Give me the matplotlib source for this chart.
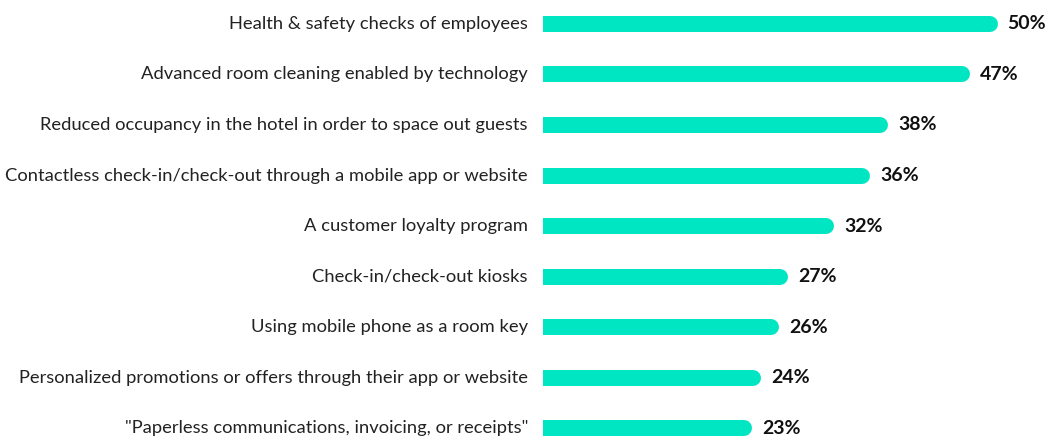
import matplotlib
matplotlib.use("Agg")
import matplotlib.pyplot as plt

categories = [
    "Health & safety checks of employees",
    "Advanced room cleaning enabled by technology",
    "Reduced occupancy in the hotel in order to space out guests",
    "Contactless check-in/check-out through a mobile app or website",
    "A customer loyalty program",
    "Check-in/check-out kiosks",
    "Using mobile phone as a room key",
    "Personalized promotions or offers through their app or website",
    "\"Paperless communications, invoicing, or receipts\"",
]
values = [50, 47, 38, 36, 32, 27, 26, 24, 23]
value_labels = ["50%", "47%", "38%", "36%", "32%", "27%", "26%", "24%", "23%"]

W, H, DPI = 1045, 437, 100
fig = plt.figure(figsize=(W / DPI, H / DPI), dpi=DPI)
ax_left_px = 543
xmax = 55
ax_w_px = 500
ax = fig.add_axes([ax_left_px / W, 0, ax_w_px / W, 1])
ax.set_xlim(0, xmax)
ax.set_ylim(8.17, -0.47)
ax.axis("off")

px_per_unit = ax_w_px / xmax
bar_h_px = 16
r_data = (bar_h_px / 2) / px_per_unit
lw_pt = bar_h_px * 72 / DPI
color = "#00E6C3"

for i, (v, lab) in enumerate(zip(values, value_labels)):
    ax.plot([-1, v - r_data], [i, i], color=color, lw=lw_pt,
            solid_capstyle="round", clip_on=True)
    ax.text(v + 10 / px_per_unit, i, lab, ha="left", va="center",
            fontsize=14, fontweight="bold", color="#111111", family="Lato")
    ax.text(-15 / px_per_unit, i, categories[i], ha="right", va="center",
            fontsize=13.2, color="#222222", family="Lato", clip_on=False)

fig.savefig("out.png", dpi=DPI)
